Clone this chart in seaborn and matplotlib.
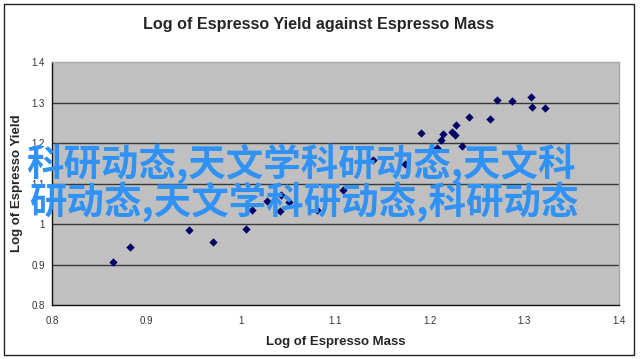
import matplotlib
matplotlib.use("Agg")
import matplotlib.pyplot as plt
import seaborn as sns
import pandas as pd

# -------- Data --------
log_mass = [0.865, 0.883, 0.945, 0.970, 1.005, 1.012, 1.027, 1.041, 1.042, 1.051,
            1.080, 1.108, 1.140, 1.174, 1.190, 1.202, 1.207, 1.212, 1.214, 1.223,
            1.226, 1.228, 1.234, 1.241, 1.263, 1.271, 1.287, 1.307, 1.308, 1.322]
log_yield = [0.905, 0.942, 0.985, 0.955, 0.988, 1.035, 1.057, 1.032, 1.072, 1.054,
             1.035, 1.084, 1.159, 1.148, 1.224, 1.185, 1.188, 1.207, 1.221, 1.228,
             1.220, 1.244, 1.193, 1.264, 1.259, 1.305, 1.303, 1.313, 1.288, 1.286]
ticks = [0.8, 0.9, 1.0, 1.1, 1.2, 1.3, 1.4]
tick_labels = ["0.8", "0.9", "1", "1.1", "1.2", "1.3", "1.4"]
watermark = ["科研动态,天文学科研动态,天文科", "研动态,天文学科研动态,科研动态"]

df = pd.DataFrame({"mass": log_mass, "yield": log_yield})

# -------- Style --------
sns.set_style("white")
plt.rcParams["font.family"] = ["Liberation Sans", "Noto Sans CJK SC", "DejaVu Sans"]

fig = plt.figure(figsize=(6.4, 3.59), dpi=100)
ax = fig.add_axes([0.08125, 0.1504, 0.8859, 0.6769])
ax.set_facecolor("#c0c0c0")

# -------- Plot --------
sns.scatterplot(data=df, x="mass", y="yield", ax=ax, marker="D", s=18,
                color="#000066", edgecolor="#000066", linewidth=0, zorder=3)

ax.set_xlim(0.8, 1.4)
ax.set_ylim(0.8, 1.4)
ax.set_xticks(ticks)
ax.set_xticklabels(tick_labels)
ax.set_yticks(ticks)
ax.set_yticklabels(tick_labels)
ax.tick_params(axis="both", direction="out", length=3, width=0.8, labelsize=7,
               colors="#333333", pad=2)
ax.tick_params(axis="x", pad=5)

# horizontal gridlines only
for y in ticks[1:-1]:
    ax.axhline(y, color="#3a3a3a", linewidth=1, zorder=1)

for side in ["left", "bottom"]:
    ax.spines[side].set_color("#111111")
    ax.spines[side].set_linewidth(1)
for side in ["top", "right"]:
    ax.spines[side].set_color("#a8a8a8")
    ax.spines[side].set_linewidth(1)

ax.set_xlabel("Log of Espresso Mass", fontsize=9.5, fontweight="bold", labelpad=7)
ax.set_ylabel("Log of Espresso Yield", fontsize=9.5, fontweight="bold", labelpad=6)
fig.text(0.498, 0.932, "Log of Espresso Yield against Espresso Mass",
         ha="center", va="center", fontsize=11.6, fontweight="bold")

# outer chart border
fig.add_artist(plt.Rectangle((4 / 640, 4 / 359), 630 / 640, 351 / 359,
                             transform=fig.transFigure, fill=False,
                             edgecolor="#222222", linewidth=1))

# watermark text over the chart
for i, line in enumerate(watermark):
    fig.text((26 + 3 * i) / 640, 1 - (164 + 38 * i) / 359, line, ha="left", va="center",
             fontsize=27, fontweight="bold", color="#3192f5",
             family=["Noto Sans CJK SC", "DejaVu Sans"], zorder=10)

fig.savefig("out.png", dpi=100)
